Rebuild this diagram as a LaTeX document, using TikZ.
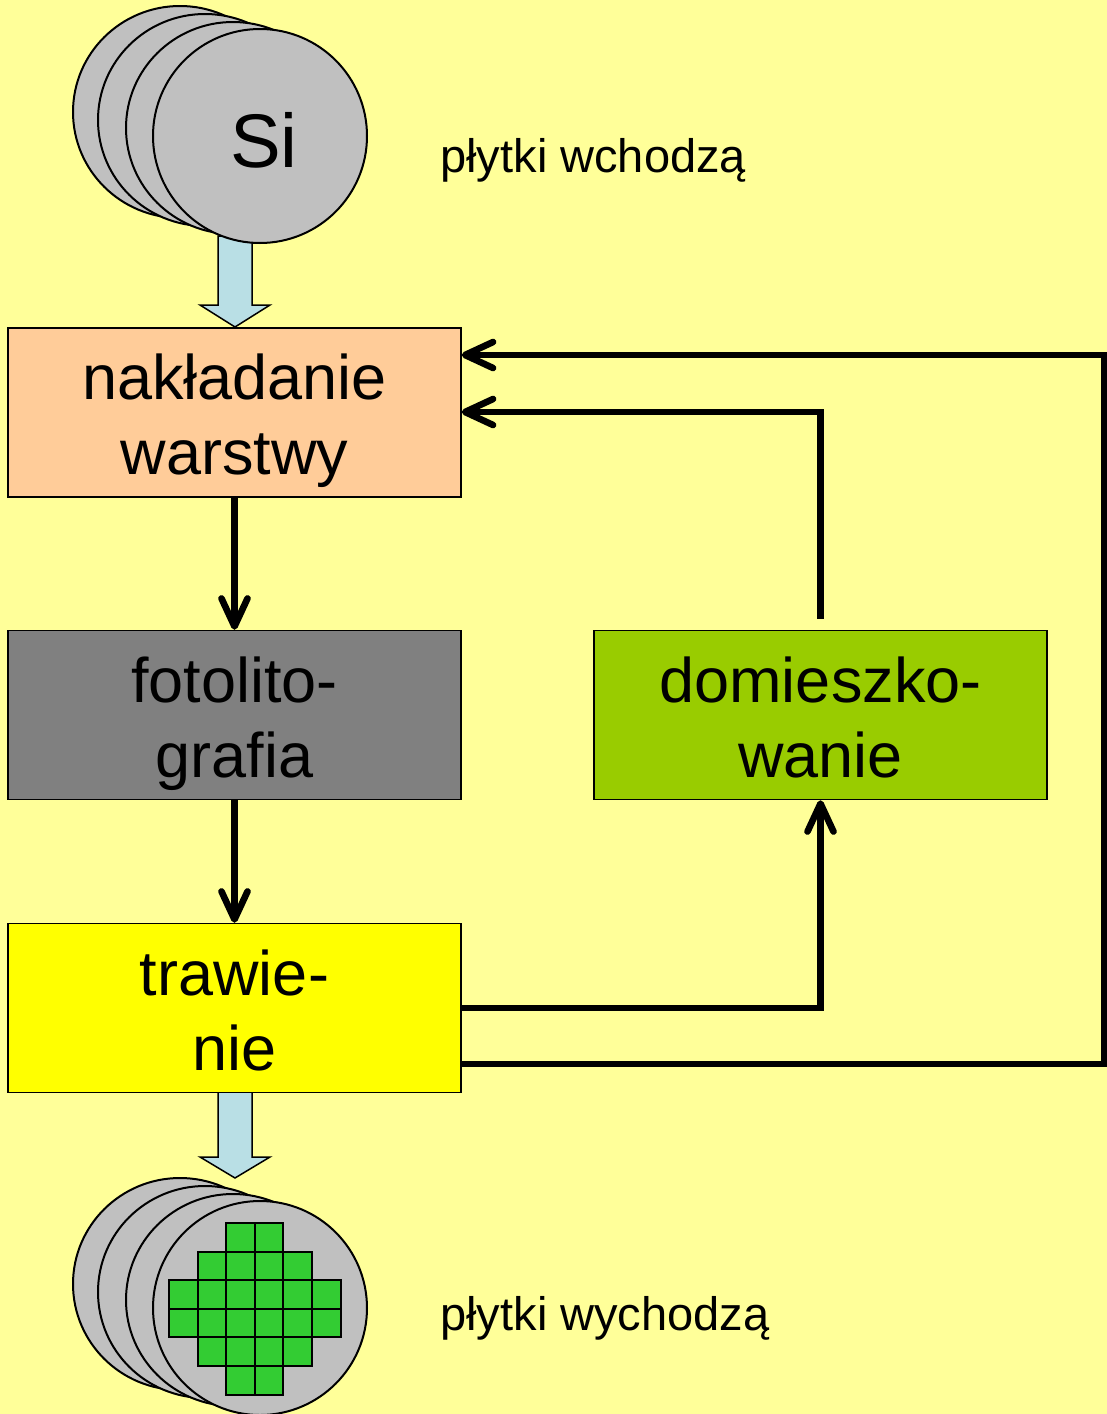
\documentclass[tikz,border=0pt]{standalone}
\usepackage{fontspec}
\setmainfont{Liberation Sans}
\usetikzlibrary{arrows.meta,calc}

\definecolor{bgyellow}{HTML}{FFFF99}
\definecolor{peach}{HTML}{FFCC99}
\definecolor{midgray}{HTML}{808080}
\definecolor{limegreen}{HTML}{99CC00}
\definecolor{brightyellow}{HTML}{FFFF00}
\definecolor{waferfill}{HTML}{C0C0C0}
\definecolor{chipgreen}{HTML}{33CC33}
\definecolor{paleblue}{HTML}{B9DFE5}

% one line of box text with fixed height and depth, so every box sets alike
\newcommand\lnstrut{\rule[-0.167\baselineskip]{0pt}{\baselineskip}}

\tikzset{
  stepbox/.style={draw=black, line width=0.75pt, minimum width=226.5pt,
    minimum height=84.5pt, inner sep=0pt, align=center,
    font=\fontsize{31.5}{37.5}\selectfont},
  wafer/.style={draw=black, line width=1pt, fill=waferfill},
  chip/.style={draw=black, line width=1pt, fill=chipgreen},
  flowarrow/.style={draw=black, line width=0.75pt, fill=paleblue},
  conn/.style={line width=3.3pt, -{Straight Barb[length=14pt,width=13pt,round]}},
  sidelabel/.style={inner sep=0pt, anchor=base west,
    font=\fontsize{23.5}{28}\selectfont}
}

\begin{document}
\begin{tikzpicture}[x=0.5pt,y=-0.5pt]
  % background and page size
  \fill[bgyellow] (0,0) rectangle (1107,1414);
  \useasboundingbox (0,0) rectangle (1107,1414);

  % wide arrows carrying the wafers in and out
  \draw[flowarrow] (218,236) -- (252,236) -- (252,305) -- (270,305)
    -- (235,327) -- (200,305) -- (218,305) -- cycle;
  \draw[flowarrow] (218,1092) -- (252,1092) -- (252,1157) -- (270,1157)
    -- (235,1178) -- (200,1157) -- (218,1157) -- cycle;

  % incoming stack of wafers
  \foreach \cx/\cy in {180/112, 205/120, 233/128}
    \draw[wafer] (\cx,\cy) ellipse [x radius=53.5pt, y radius=53pt];
  \node[wafer, circle, minimum size=107pt, inner sep=0pt] (wafin) at (260,136) {};
  \node[inner sep=0pt, anchor=base, font=\fontsize{38}{44}\selectfont] (si)
    at (264,167) {Si};

  % outgoing stack of patterned wafers
  \foreach \cx/\cy in {180/1284, 205/1292, 233/1300}
    \draw[wafer] (\cx,\cy) ellipse [x radius=53.5pt, y radius=53pt];
  \node[wafer, circle, minimum size=107pt, inner sep=0pt] (wafout) at (260,1308) {};
  \foreach \r/\a/\b in {0/2/3, 1/1/4, 2/0/5, 3/0/5, 4/1/4, 5/2/3}
    \foreach \c in {\a,...,\b}
      \draw[chip] ({169+\c*28.6},{1223+\r*28.6}) rectangle ++(28.6,28.6);

  % side labels
  \node[sidelabel] (inlabel) at (440,172) {płytki wchodzą};
  \node[sidelabel] (outlabel) at (440,1330) {płytki wychodzą};

  % process steps
  \node[stepbox, fill=peach] (nak) at (234.5,412.5)
    {\lnstrut nakładanie\\\lnstrut warstwy};
  \node[stepbox, fill=midgray] (foto) at (234.5,715)
    {\lnstrut fotolito-\\\lnstrut grafia};
  \node[stepbox, fill=limegreen] (dom) at (820.5,715)
    {\lnstrut domieszko-\\\lnstrut wanie};
  \node[stepbox, fill=brightyellow] (traw) at (234.5,1008)
    {\lnstrut trawie-\\\lnstrut nie};

  % flow between steps
  \draw[conn] (nak.south) -- (foto.north);
  \draw[conn] (foto.south) -- (traw.north);
  \draw[conn] (traw.east) -| (dom.south);
  \draw[conn] ($(dom.north)+(0,-11)$) |- (nak.east |- 0,412);
  \coordinate (outer) at (1104,355);
  \draw[conn] ($(traw.east)+(0,56)$) -| (outer) -- (outer -| nak.east);
\end{tikzpicture}
\end{document}
